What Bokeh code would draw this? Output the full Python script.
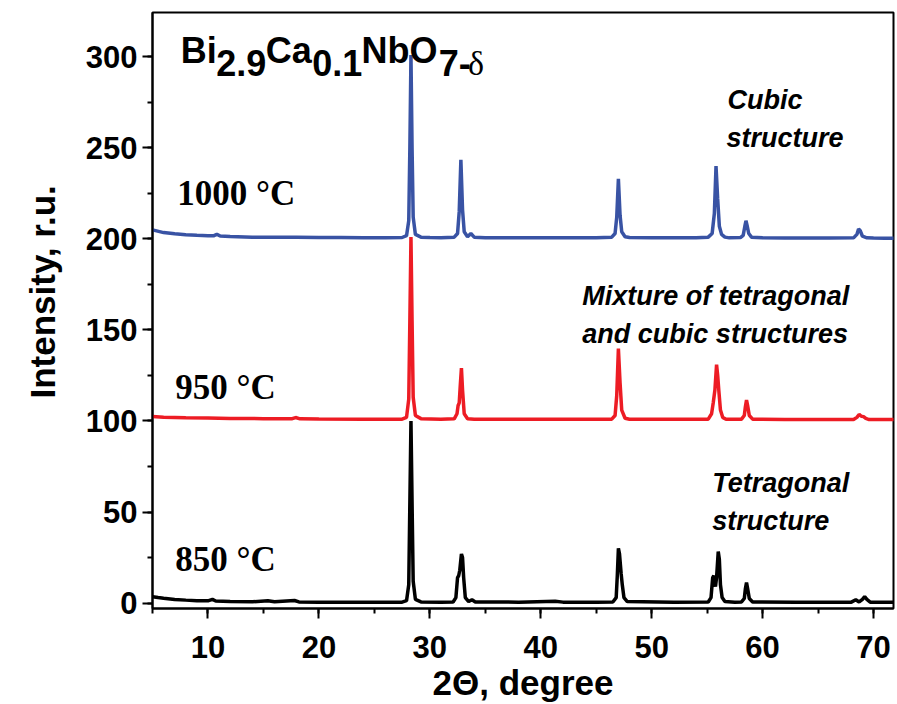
from bokeh.plotting import figure
from bokeh.models import Label, Range1d, SingleIntervalTicker, Title
from bokeh.embed import file_html
from bokeh.resources import INLINE

# ---------------- data ----------------
x_1000 = [5, 6, 7, 8, 9, 10, 10.5, 10.8, 11.1, 12, 14, 16, 18, 20, 22, 24, 26, 27.5,
          27.9, 28.1, 28.2, 28.3, 28.4, 28.5, 28.7, 29.2, 30, 31,
          32.2, 32.5, 32.65, 32.8, 32.95, 33.1, 33.4, 33.7, 34.0, 35, 37, 39, 41, 43, 45,
          46.4, 46.7, 46.85, 47.0, 47.15, 47.3, 47.6, 48, 50, 52, 54,
          55.1, 55.45, 55.65, 55.8, 55.95, 56.1, 56.3, 56.6, 57,
          58.0, 58.25, 58.4, 58.5, 58.6, 58.75, 59.0, 60, 62, 64, 66,
          68.2, 68.5, 68.65, 68.8, 69.0, 69.4, 70, 71, 72]
y_1000 = [205, 203.5, 202.8, 202.3, 202.0, 201.8, 201.7, 202.6, 201.6, 201.3, 201.0, 200.9, 200.9, 200.8, 200.8, 200.7, 200.7, 200.8,
          201.8, 210, 250, 301, 250, 212, 202.5, 201.0, 200.8, 200.7,
          201.0, 203, 215, 243.5, 216, 204, 201.2, 203, 201.0, 200.7, 200.7, 200.6, 200.6, 200.6, 200.6,
          201.0, 203, 212, 233, 213, 204, 201.2, 200.8, 200.6, 200.6, 200.6,
          201.0, 203, 214, 240, 222, 207, 202.5, 201.0, 200.6,
          200.8, 202, 207, 210, 207.5, 203, 201.0, 200.6, 200.5, 200.5, 200.5,
          200.6, 202.5, 205.5, 204.5, 201.5, 200.6, 200.5, 200.4, 200.4]

x_950 = [5, 6, 8, 10, 12, 15, 17.6, 17.9, 18.3, 20, 24, 27.5,
         27.9, 28.1, 28.2, 28.3, 28.4, 28.5, 28.7, 29.2, 31,
         32.2, 32.45, 32.55, 32.65, 32.75, 32.85, 32.95, 33.1, 33.4, 34, 38, 42, 45,
         46.4, 46.7, 46.85, 47.0, 47.15, 47.3, 47.6, 48, 52,
         55.1, 55.4, 55.55, 55.7, 55.85, 55.95, 56.05, 56.2, 56.4, 56.7, 57.5,
         58.1, 58.35, 58.45, 58.55, 58.65, 58.8, 59.1, 62, 66,
         68.2, 68.5, 68.7, 68.9, 69.1, 69.3, 69.6, 72]
y_950 = [102.5, 102.1, 101.8, 101.6, 101.4, 101.3, 101.3, 101.9, 101.2, 101.1, 101.0, 101.0,
         102, 112, 155, 201, 155, 113, 103, 101.3, 101.0,
         101.2, 104, 108.5, 110, 120, 129, 117, 104, 101.2, 101.0, 101.0, 101.0, 101.0,
         101.0, 103, 114, 139.8, 121, 106, 101.5, 101.0, 100.9,
         101.0, 104, 110, 117, 131, 125, 117, 106, 102, 101.0, 100.9,
         101.0, 103, 108, 111.5, 108.5, 103, 101.0, 100.8, 100.8,
         100.8, 102, 103.6, 102.6, 102.4, 101.4, 100.8, 100.8]

x_850 = [5, 5.5, 6, 7, 8, 9, 10, 10.4, 10.7, 12, 14, 15.4, 16, 17.8, 18.2, 20, 24, 27.5,
         27.9, 28.1, 28.2, 28.3, 28.4, 28.5, 28.7, 29.2, 31,
         32.1, 32.35, 32.5, 32.6, 32.7, 32.85, 32.95, 33.05, 33.2, 33.5, 33.8, 34.1, 38, 41.3, 42, 45,
         46.5, 46.8, 46.9, 47.0, 47.1, 47.25, 47.35, 47.5, 47.8, 52,
         55.1, 55.35, 55.5, 55.6, 55.75, 55.85, 56.0, 56.1, 56.2, 56.35, 56.6, 57.5,
         58.1, 58.35, 58.45, 58.55, 58.65, 58.8, 59.1, 63, 66,
         68.0, 68.4, 68.7, 69.0, 69.2, 69.4, 69.7, 72]
y_850 = [3.5, 3.0, 2.6, 2.0, 1.6, 1.3, 1.2, 2.0, 1.1, 0.9, 0.7, 1.2, 0.7, 1.4, 0.6, 0.5, 0.5, 0.5,
         1.3, 10, 55, 100, 55, 12, 2, 0.6, 0.5,
         0.6, 3, 14, 15, 18, 27, 25, 14, 3, 0.8, 1.8, 0.6, 0.5, 1.0, 0.5, 0.5,
         0.6, 3, 15, 30, 27, 16, 10, 3, 0.8, 0.5,
         0.6, 3, 14, 15, 9, 14, 28.3, 24, 10, 3, 0.8, 0.5,
         0.6, 2.5, 8, 11.3, 8, 2.5, 0.6, 0.5, 0.5,
         0.5, 1.8, 0.6, 2.0, 3.5, 2.0, 0.5, 0.4]

x_ticks_major = 10
y_ticks_major = 50
x_label = "2\u0398, degree"
y_label = "Intensity, r.u."

# ---------------- figure ----------------
p = figure(width=897, height=704, output_backend="svg", toolbar_location=None,
           x_range=Range1d(5, 71.8), y_range=Range1d(-3, 324.4),
           min_border_left=152, min_border_right=4, min_border_top=12, min_border_bottom=94)
p.background_fill_color = "white"
p.border_fill_color = "white"
p.outline_line_color = "black"
p.outline_line_width = 2
p.xgrid.visible = False
p.ygrid.visible = False

p.line(x_1000, y_1000, line_color="#3953A4", line_width=3.5)
p.line(x_950, y_950, line_color="#ED1C24", line_width=3.5)
p.line(x_850, y_850, line_color="black", line_width=3.5)

p.xaxis.ticker = SingleIntervalTicker(interval=x_ticks_major, num_minor_ticks=2)
p.yaxis.ticker = SingleIntervalTicker(interval=y_ticks_major, num_minor_ticks=2)
for ax in (p.xaxis[0], p.yaxis[0]):
    ax.axis_line_width = 2
    ax.major_tick_line_width = 2
    ax.minor_tick_line_width = 2
    ax.major_tick_in = 0
    ax.major_tick_out = 10
    ax.minor_tick_in = 0
    ax.minor_tick_out = 5
    ax.major_label_text_font = "Liberation Sans"
    ax.major_label_text_font_style = "bold"
    ax.major_label_text_font_size = "31px"
    ax.major_label_text_color = "black"
    ax.axis_label_text_font = "Liberation Sans"
    ax.axis_label_text_font_style = "bold"
    ax.axis_label_text_font_size = "35px"
    ax.axis_label_text_color = "black"

p.xaxis.axis_label = x_label
p.xaxis.major_label_standoff = 17
p.xaxis.axis_label_standoff = 2
p.yaxis.major_label_standoff = 5

# y axis title as a left-side title so it can be shifted up like the original
p.add_layout(Title(text=y_label, align="left", offset=210, standoff=38, vertical_align="top",
                   text_font="Liberation Sans", text_font_style="bold",
                   text_font_size="35px", text_color="black"), "left")

# ---------------- annotations ----------------
def add(x, y, text, size, font="Liberation Sans", style="bold", baseline="alphabetic",
        align="left"):
    p.add_layout(Label(x=x, y=y, text=text, text_font=font, text_font_style=style,
                       text_font_size=size, text_color="black", text_baseline=baseline,
                       text_align=align))

# formula title pieces
add(7.55, 303.8, "Bi", "36px")
add(10.75, 296.5, "2.9", "36px")
add(15.2, 303.8, "Ca", "36px")
add(19.4, 296.5, "0.1", "36px")
add(23.85, 303.8, "NbO", "36px")
add(30.8, 296.5, "7-", "36px")
add(33.45, 296.5, "\u03b4", "34px", font="Liberation Serif", style="normal")

# temperatures
add(7.24, 224.8, "1000 \u00b0C", "35px", font="Liberation Serif")
add(7.06, 118.2, "950 \u00b0C", "35px", font="Liberation Serif")
add(7.06, 23.7, "850 \u00b0C", "35px", font="Liberation Serif")

# structure notes
add(56.83, 276.3, "Cubic", "27px", style="bold italic")
add(56.74, 255.5, "structure", "27px", style="bold italic")
add(43.75, 168.7, "Mixture of tetragonal", "27px", style="bold italic")
add(43.75, 147.7, "and cubic structures", "27px", style="bold italic")
add(55.46, 66.0, "Tetragonal", "27px", style="bold italic")
add(55.46, 45.0, "structure", "27px", style="bold italic")

open("out.html", "w").write(file_html(p, INLINE))
